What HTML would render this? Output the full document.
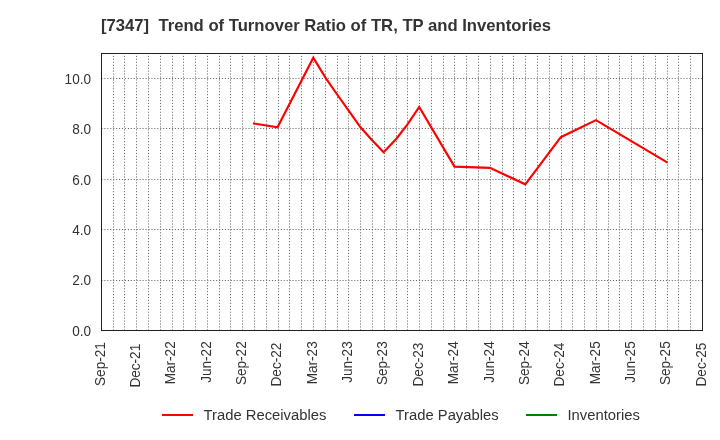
<!DOCTYPE html>
<html><head><meta charset="utf-8"><style>
html,body{margin:0;padding:0;background:#fff;width:720px;height:440px;overflow:hidden}
svg{display:block;will-change:transform}
.t{font-family:"Liberation Sans",sans-serif;font-size:15.2px;fill:#333}
.k{font-family:"Liberation Sans",sans-serif;font-size:15px;fill:#333}
.title{font-family:"Liberation Sans",sans-serif;font-size:16.67px;font-weight:bold;fill:#333}
</style></head><body>
<svg width="720" height="440" viewBox="0 0 720 440">
<rect x="0" y="0" width="720" height="440" fill="#fff"/>
<path d="M113.5 330.4V54M124.5 330.4V54M136.5 330.4V54M148.5 330.4V54M160.5 330.4V54M172.5 330.4V54M183.5 330.4V54M195.5 330.4V54M207.5 330.4V54M219.5 330.4V54M230.5 330.4V54M242.5 330.4V54M254.5 330.4V54M266.5 330.4V54M278.5 330.4V54M289.5 330.4V54M301.5 330.4V54M313.5 330.4V54M325.5 330.4V54M337.5 330.4V54M348.5 330.4V54M360.5 330.4V54M372.5 330.4V54M384.5 330.4V54M396.5 330.4V54M407.5 330.4V54M419.5 330.4V54M431.5 330.4V54M443.5 330.4V54M454.5 330.4V54M466.5 330.4V54M478.5 330.4V54M490.5 330.4V54M502.5 330.4V54M513.5 330.4V54M525.5 330.4V54M537.5 330.4V54M549.5 330.4V54M561.5 330.4V54M572.5 330.4V54M584.5 330.4V54M596.5 330.4V54M608.5 330.4V54M619.5 330.4V54M631.5 330.4V54M643.5 330.4V54M655.5 330.4V54M667.5 330.4V54M678.5 330.4V54M690.5 330.4V54M101.4 280.5H702M101.4 229.5H702M101.4 179.5H702M101.4 128.5H702M101.4 78.5H702" stroke="#6a6a6a" stroke-width="1" stroke-dasharray="1.1,1.84" fill="none"/>
<rect x="101.5" y="53.5" width="601" height="277" fill="none" stroke="#222" stroke-width="1"/>
<text transform="translate(91,335.8) scale(0.905,1)" text-anchor="end" class="k">0.0</text>
<text transform="translate(91,285.4) scale(0.905,1)" text-anchor="end" class="k">2.0</text>
<text transform="translate(91,235.0) scale(0.905,1)" text-anchor="end" class="k">4.0</text>
<text transform="translate(91,184.6) scale(0.905,1)" text-anchor="end" class="k">6.0</text>
<text transform="translate(91,134.2) scale(0.905,1)" text-anchor="end" class="k">8.0</text>
<text transform="translate(91,83.8) scale(0.905,1)" text-anchor="end" class="k">10.0</text>
<text transform="translate(104.5,342.2) rotate(-90) scale(0.905,1)" text-anchor="end" class="k">Sep-21</text>
<text transform="translate(139.9,343.8) rotate(-90) scale(0.905,1)" text-anchor="end" class="k">Dec-21</text>
<text transform="translate(175.2,341.3) rotate(-90) scale(0.905,1)" text-anchor="end" class="k">Mar-22</text>
<text transform="translate(210.6,341.3) rotate(-90) scale(0.905,1)" text-anchor="end" class="k">Jun-22</text>
<text transform="translate(246.0,341.3) rotate(-90) scale(0.905,1)" text-anchor="end" class="k">Sep-22</text>
<text transform="translate(281.3,342.7) rotate(-90) scale(0.905,1)" text-anchor="end" class="k">Dec-22</text>
<text transform="translate(316.7,341.3) rotate(-90) scale(0.905,1)" text-anchor="end" class="k">Mar-23</text>
<text transform="translate(352.1,341.3) rotate(-90) scale(0.905,1)" text-anchor="end" class="k">Jun-23</text>
<text transform="translate(387.4,341.3) rotate(-90) scale(0.905,1)" text-anchor="end" class="k">Sep-23</text>
<text transform="translate(422.8,342.7) rotate(-90) scale(0.905,1)" text-anchor="end" class="k">Dec-23</text>
<text transform="translate(458.1,341.3) rotate(-90) scale(0.905,1)" text-anchor="end" class="k">Mar-24</text>
<text transform="translate(493.5,341.3) rotate(-90) scale(0.905,1)" text-anchor="end" class="k">Jun-24</text>
<text transform="translate(528.9,341.3) rotate(-90) scale(0.905,1)" text-anchor="end" class="k">Sep-24</text>
<text transform="translate(564.2,342.7) rotate(-90) scale(0.905,1)" text-anchor="end" class="k">Dec-24</text>
<text transform="translate(599.6,341.3) rotate(-90) scale(0.905,1)" text-anchor="end" class="k">Mar-25</text>
<text transform="translate(635.0,341.3) rotate(-90) scale(0.905,1)" text-anchor="end" class="k">Jun-25</text>
<text transform="translate(670.3,341.3) rotate(-90) scale(0.905,1)" text-anchor="end" class="k">Sep-25</text>
<text transform="translate(705.7,342.7) rotate(-90) scale(0.905,1)" text-anchor="end" class="k">Dec-25</text>
<path d="M252.9,123.3 L277.5,127.2 L313.3,57.8 L325.6,77.8 L337.5,95.0 L348.5,110.4 L360.3,127.0 L372.1,140.2 L383.6,152.2 L396.2,139.0 L407.3,124.6 L419.2,107.0 L454.5,166.6 L490.0,167.9 L525.3,184.3 L560.8,137.2 L596.0,120.1 L631.3,141.2 L667.6,162.7" stroke="#ff0000" stroke-width="2.15" fill="none" stroke-linejoin="miter"/>
<text x="101" y="30.8" class="title">[7347]&#160;&#160;Trend of Turnover Ratio of TR, TP and Inventories</text>
<path d="M162 415H193" stroke="#ff0000" stroke-width="2"/>
<text transform="translate(203.5,420) scale(0.975,1)" class="t">Trade Receivables</text>
<path d="M354 415H385" stroke="#0000ff" stroke-width="2"/>
<text transform="translate(395.5,420) scale(0.975,1)" class="t">Trade Payables</text>
<path d="M526 415H557" stroke="#008000" stroke-width="2"/>
<text transform="translate(567.5,420) scale(0.975,1)" class="t">Inventories</text>
</svg>
</body></html>
